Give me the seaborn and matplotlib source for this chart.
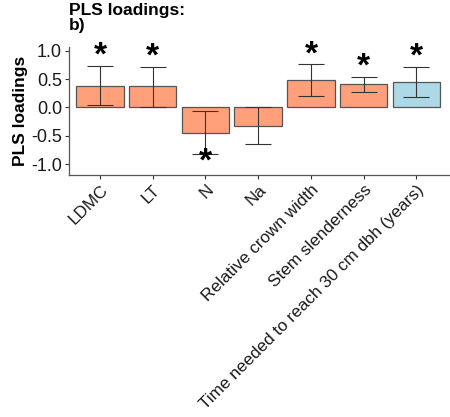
import matplotlib
matplotlib.use("Agg")
import matplotlib.pyplot as plt
import seaborn as sns
import pandas as pd

categories = ["LDMC", "LT", "N", "Na", "Relative crown width",
              "Stem slenderness", "Time needed to reach 30 cm dbh (years)"]
loadings = [0.38, 0.37, -0.45, -0.32, 0.49, 0.41, 0.44]
err_low = [0.035, 0.01, -0.83, -0.65, 0.21, 0.28, 0.18]
err_high = [0.73, 0.72, -0.07, 0.01, 0.76, 0.54, 0.71]
significant = [True, True, True, False, True, True, True]
group = ["a", "a", "a", "a", "a", "a", "b"]
palette = {"a": "#FFA07A", "b": "#ADD8E6"}

df = pd.DataFrame({"trait": categories, "loading": loadings, "group": group})

sns.set_style("white")
plt.rcParams["font.family"] = ["Liberation Sans", "DejaVu Sans"]

fig = plt.figure(figsize=(4.5, 4.17), dpi=100)
ax = fig.add_axes([0.153, 0.58, 0.845, 0.307])

sns.barplot(data=df, x="trait", y="loading", hue="group", palette=palette,
            width=0.9, edgecolor="#555555", linewidth=0.9, legend=False,
            dodge=False, saturation=1, ax=ax)

xs = list(range(len(categories)))
yerr = [[l - lo for l, lo in zip(loadings, err_low)],
        [hi - l for l, hi in zip(loadings, err_high)]]
ax.errorbar(xs, loadings, yerr=yerr, fmt="none", ecolor="#333333",
            elinewidth=0.8, capsize=9.5, capthick=0.8)

for x, lo, hi, l, s in zip(xs, err_low, err_high, loadings, significant):
    if not s:
        continue
    if l >= 0:
        ax.text(x, hi + 0.02, "*", ha="center", va="baseline",
                fontsize=24, fontweight="bold", color="black")
    else:
        ax.text(x, lo - 0.29, "*", ha="center", va="baseline",
                fontsize=24, fontweight="bold", color="black")

ax.set_xlim(-0.59, 6.62)
ax.set_ylim(-1.194, 1.063)
ax.set_yticks([1.0, 0.5, 0.0, -0.5, -1.0])
ax.set_yticklabels(["1.0", "0.5", "0.0", "-0.5", "-1.0"])
ax.set_xlabel("")
ax.set_ylabel("PLS loadings", fontsize=12.5, fontweight="bold", labelpad=2,
              color="black")
ax.tick_params(axis="both", colors="#333333", length=3,
               width=0.8, direction="out", left=True, bottom=True, pad=2)
ax.tick_params(axis="y", labelsize=13)
ax.tick_params(axis="x", labelsize=12.3)
ax.tick_params(axis="both", labelcolor="#1a1a1a")
plt.setp(ax.get_xticklabels(), rotation=45, ha="right", rotation_mode="anchor")

for side in ["top", "right"]:
    ax.spines[side].set_visible(False)
for side in ["left", "bottom"]:
    ax.spines[side].set_color("#555555")
    ax.spines[side].set_linewidth(0.9)

fig.text(0.153, 0.993, "PLS loadings:\nb)", ha="left", va="top",
         fontsize=12.5, fontweight="bold", linespacing=1.0, color="black")

fig.savefig("out.png", dpi=100)
